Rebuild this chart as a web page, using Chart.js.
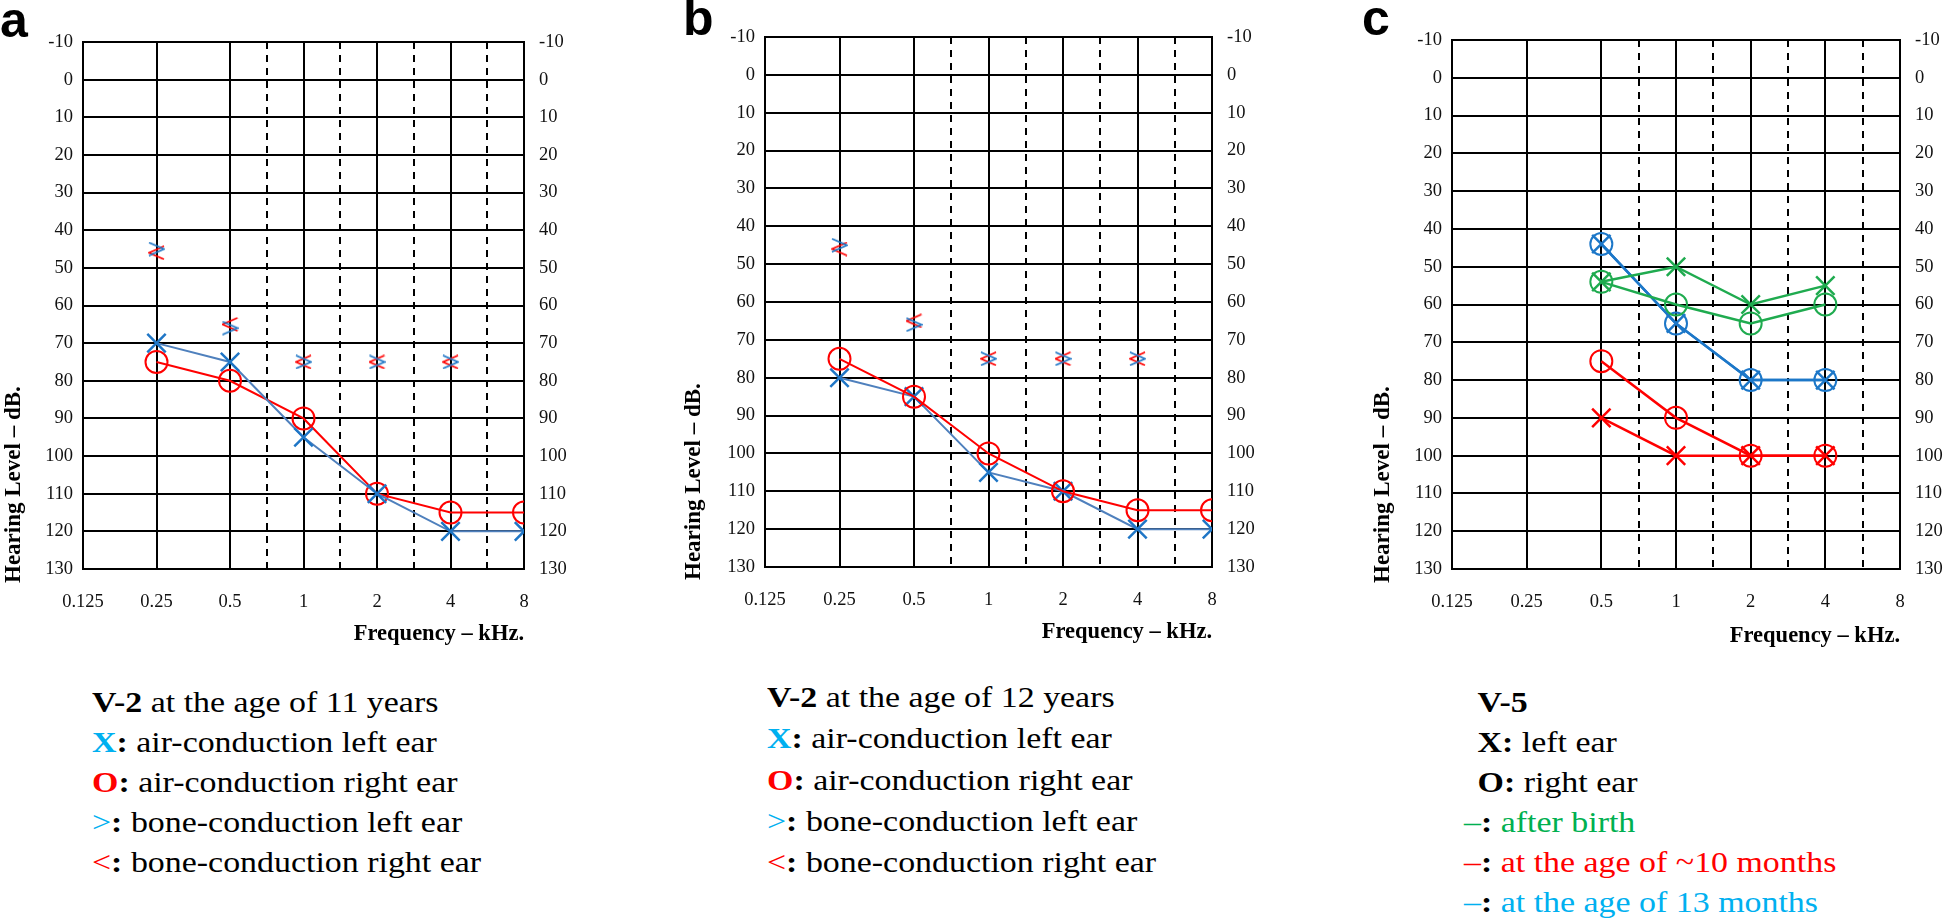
<!DOCTYPE html>
<html>
<head>
<meta charset="utf-8">
<title>Audiograms</title>
<script src="https://cdn.jsdelivr.net/npm/chart.js@4.4.0/dist/chart.umd.min.js"></script>
<style>
  body { margin: 0; width: 1944px; height: 924px; position: relative; overflow: hidden; background: #fff; font-family: "Liberation Serif", "Times New Roman", serif; }
  canvas { position: absolute; top: 0; }
  .letter { position: absolute; font: bold 50px "Liberation Sans", Arial, sans-serif; line-height: 50px; color: #000; z-index: 2; }
  .caption { position: absolute; font-size: 30px; line-height: 40px; white-space: nowrap; color: #000; transform: scaleX(1.13); transform-origin: left top; }
  .indent { padding-left: 12px; }
  .ytitle { position: absolute; font: bold 23px "Liberation Serif", serif; line-height: 26px; white-space: nowrap; transform: rotate(-90deg); transform-origin: left top; z-index: 2; }
</style>
</head>
<body>

<div class="letter" style="left:0px; top:-5px;">a</div>
<div class="letter" style="left:683px; top:-7px;">b</div>
<div class="letter" style="left:1362px; top:-7px;">c</div>

<canvas id="chartA" width="600" height="660" style="left:0px;"></canvas>
<canvas id="chartB" width="600" height="660" style="left:680px;"></canvas>
<canvas id="chartC" width="584" height="660" style="left:1360px;"></canvas>

<!-- y axis titles, rotated so the text reads bottom to top -->
<div class="ytitle" style="left:0px; top:583px;">Hearing Level – dB.</div>
<div class="ytitle" style="left:680px; top:580px;">Hearing Level – dB.</div>
<div class="ytitle" style="left:1369px; top:583px;">Hearing Level – dB.</div>

<div class="caption" style="left:92px; top:682px;">
  <b>V-2</b> at the age of 11 years<br>
  <b style="color:#00b0f0">X</b><b>:</b> air-conduction left ear<br>
  <b style="color:#ff0000">O</b><b>:</b> air-conduction right ear<br>
  <span style="color:#00b0f0">&gt;</span><b>:</b> bone-conduction left ear<br>
  <span style="color:#ff0000">&lt;</span><b>:</b> bone-conduction right ear
</div>

<div class="caption" style="left:767px; top:676px; line-height:41.3px;">
  <b>V-2</b> at the age of 12 years<br>
  <b style="color:#00b0f0">X</b><b>:</b> air-conduction left ear<br>
  <b style="color:#ff0000">O</b><b>:</b> air-conduction right ear<br>
  <span style="color:#00b0f0">&gt;</span><b>:</b> bone-conduction left ear<br>
  <span style="color:#ff0000">&lt;</span><b>:</b> bone-conduction right ear
</div>

<div class="caption" style="left:1464px; top:682px;">
  <span class="indent"><b>V-5</b></span><br>
  <span class="indent"><b>X:</b> left ear</span><br>
  <span class="indent"><b>O:</b> right ear</span><br>
  <span style="color:#00b050">–</span><b>:</b> <span style="color:#00b050">after birth</span><br>
  <span style="color:#ff0000">–</span><b>:</b> <span style="color:#ff0000">at the age of ~10 months</span><br>
  <span style="color:#00b0f0">–</span><b>:</b> <span style="color:#00b0f0">at the age of 13 months</span>
</div>

<script>
// frequency axis (index 0..6 on the chart)
const freqLabels = ['0.125', '0.25', '0.5', '1', '2', '4', '8'];
const halfSteps = [2.5, 3.5, 4.5, 5.5]; // dashed lines 0.75 / 1.5 / 3 / 6 kHz

// panel a - V-2 at 11 years (dB HL per frequency, null = not tested)
const aAirLeft   = [null, 70, 75, 95, 110, 120, 120];
const aAirRight  = [null, 75, 80, 90, 110, 115, 115];
const aBoneLeft  = [null, 45, 66, 75, 75, 75, null];
const aBoneRight = [null, 46, 65, 75, 75, 75, null];

// panel b - V-2 at 12 years
const bAirLeft   = [null, 80, 85, 105, 110, 120, 120];
const bAirRight  = [null, 75, 85, 100, 110, 115, 115];
const bBoneLeft  = [null, 45, 66, 75, 75, 75, null];
const bBoneRight = [null, 46, 65, 75, 75, 75, null];

// panel c - V-5
const cBirthLeft   = [null, null, 54, 50, 60, 55, null];
const cBirthRight  = [null, null, 54, 60, 65, 60, null];
const c10mLeft     = [null, null, 90, 100, 100, 100, null];
const c10mRight    = [null, null, 75, 90, 100, 100, null];
const c13mLeft     = [null, null, 44, 65, 80, 80, null];
const c13mRight    = [null, null, 44, 65, 80, 80, null];

const RED = '#ff0000';
const BLUE_LINE = '#4f80bd';
const BLUE_MARK = '#1f76c6';
const C_BLUE = '#1c77c8';
const C_GREEN = '#1fab4f';
const GRID = '#000';

function points(values) {
  return values.map((v, i) => v == null ? null : { x: i, y: v }).filter(p => p);
}

// small chevron images for the bone conduction symbols
function chevron(color, pointRight) {
  const c = document.createElement('canvas');
  c.width = 17; c.height = 15;
  const g = c.getContext('2d');
  g.strokeStyle = color;
  g.lineWidth = 1.8;
  g.beginPath();
  if (pointRight) { g.moveTo(1, 1); g.lineTo(16, 7.5); g.lineTo(1, 14); }
  else { g.moveTo(16, 1); g.lineTo(1, 7.5); g.lineTo(16, 14); }
  g.stroke();
  return c;
}
const boneLeftImg = chevron(BLUE_MARK, true);
const boneRightImg = chevron(RED, false);

function airSeries(values, color, markColor, style, radius, width) {
  return {
    data: points(values),
    borderColor: color,
    borderWidth: width,
    pointStyle: style,
    pointRadius: radius,
    pointBorderColor: markColor,
    pointBackgroundColor: 'rgba(0,0,0,0)',
    pointBorderWidth: style === 'crossRot' ? 2.5 : 2,
    fill: false,
    tension: 0
  };
}

function boneSeries(values, img) {
  return {
    data: points(values),
    showLine: false,
    pointStyle: img,
    pointRadius: 8
  };
}

const tickFont = { family: 'Liberation Serif', size: 18.5 };
const titleFont = { family: 'Liberation Serif', size: 22.5, weight: 'bold' };

function buildChart(id, g, datasets) {
  new Chart(document.getElementById(id), {
    type: 'line',
    data: { datasets: datasets },
    options: {
      responsive: false,
      animation: false,
      layout: { padding: { top: g.top, bottom: 0, left: 0, right: 0 } },
      plugins: { legend: { display: false }, tooltip: { enabled: false } },
      scales: {
        x: {
          type: 'linear', min: 0, max: 6,
          afterFit: s => { s.height = g.xHeight; },
          ticks: {
            stepSize: 1, autoSkip: false, maxRotation: 0, padding: 22,
            font: tickFont, color: '#111',
            callback: v => freqLabels[v]
          },
          grid: { color: GRID, lineWidth: 2, drawTicks: false },
          border: { color: GRID, width: 2 },
          title: {
            display: true, text: 'Frequency – kHz.', align: 'end',
            font: titleFont, color: '#000',
            padding: { top: 0, bottom: g.xTitlePad }
          }
        },
        xHalf: {
          type: 'linear', position: 'top', min: 0, max: 6,
          afterFit: s => { s.height = 0; },
          ticks: { display: false, stepSize: 0.5 },
          grid: {
            drawTicks: false, lineWidth: 2,
            color: c => halfSteps.includes(c.tick.value) ? GRID : 'rgba(0,0,0,0)'
          },
          border: { display: false, dash: [7, 6] }
        },
        y: {
          type: 'linear', position: 'left', reverse: true, min: -10, max: 130,
          afterFit: s => { s.width = g.left; },
          ticks: { stepSize: 10, padding: 10, font: tickFont, color: '#111', callback: v => String(v) },
          grid: { color: GRID, lineWidth: 2, drawTicks: false },
          border: { color: GRID, width: 2 }
        },
        y2: {
          type: 'linear', position: 'right', reverse: true, min: -10, max: 130,
          afterFit: s => { s.width = g.right; },
          ticks: { stepSize: 10, padding: 15, font: tickFont, color: '#111', callback: v => String(v) },
          grid: { drawOnChartArea: false, drawTicks: false },
          border: { color: GRID, width: 2 }
        }
      }
    }
  });
}

buildChart('chartA', { top: 42, left: 83, right: 76, xHeight: 91, xTitlePad: 12 }, [
  airSeries(aAirLeft, BLUE_LINE, BLUE_MARK, 'crossRot', 13, 2),
  airSeries(aAirRight, RED, RED, 'circle', 11, 2),
  boneSeries(aBoneLeft, boneLeftImg),
  boneSeries(aBoneRight, boneRightImg)
]);

buildChart('chartB', { top: 37, left: 85, right: 68, xHeight: 93, xTitlePad: 14 }, [
  airSeries(bAirRight, RED, RED, 'circle', 11, 2),
  airSeries(bAirLeft, BLUE_LINE, BLUE_MARK, 'crossRot', 13, 2),
  boneSeries(bBoneLeft, boneLeftImg),
  boneSeries(bBoneRight, boneRightImg)
]);

buildChart('chartC', { top: 40, left: 92, right: 44, xHeight: 91, xTitlePad: 10 }, [
  airSeries(cBirthLeft, C_GREEN, C_GREEN, 'crossRot', 13, 2.5),
  airSeries(cBirthRight, C_GREEN, C_GREEN, 'circle', 11, 2.5),
  airSeries(c13mLeft, C_BLUE, C_BLUE, 'crossRot', 13, 2.5),
  airSeries(c13mRight, C_BLUE, C_BLUE, 'circle', 11, 2.5),
  airSeries(c10mRight, RED, RED, 'circle', 11, 2.5),
  airSeries(c10mLeft, RED, RED, 'crossRot', 13, 2.5)
]);
</script>
</body>
</html>
